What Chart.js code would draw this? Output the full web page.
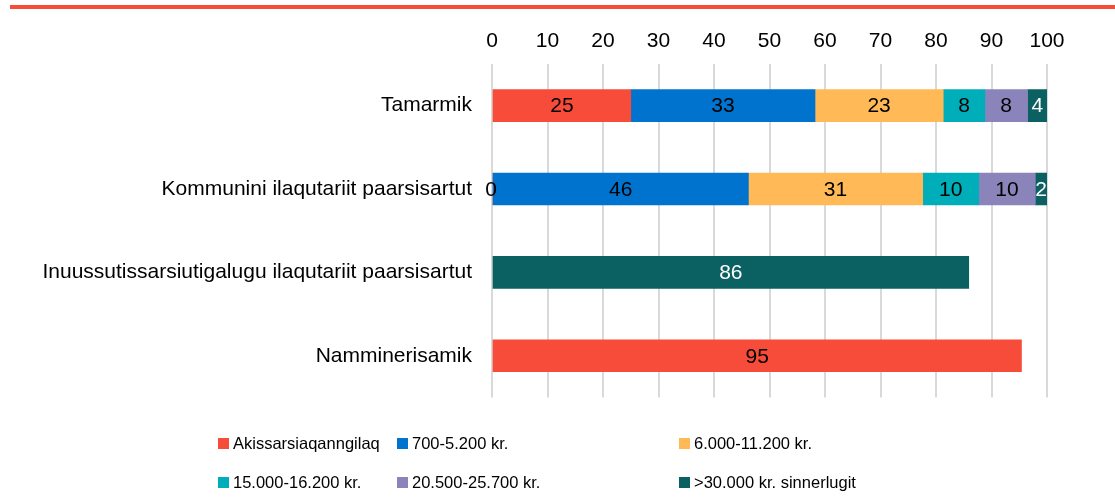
<!DOCTYPE html>
<html>
<head>
<meta charset="utf-8">
<script src="https://cdn.jsdelivr.net/npm/chart.js@4.4.1/dist/chart.umd.min.js"></script>
<style>
  body { margin: 0; background: #fff; font-family: "Liberation Sans", Arial, sans-serif; }
  #wrap { position: relative; width: 1115px; height: 498px; overflow: hidden; }
  #topline { position: absolute; left: 10px; top: 5px; width: 1105px; height: 4px; background: #F84C3B; }
  #barChart { position: absolute; left: 0; top: 0; }
  #legend { position: absolute; left: 0; top: 0; width: 1115px; height: 498px; pointer-events: none; }
  .lg { position: absolute; font-size: 16.5px; color: #000; white-space: nowrap; line-height: 20px; }
  .lg i { display: inline-block; width: 11px; height: 11px; margin-right: 4px; vertical-align: 0px; }
</style>
</head>
<body>
<div id="wrap">
  <div id="topline"></div>
  <canvas id="barChart" width="1115" height="430"></canvas>
  <div id="legend"></div>
</div>
<script>
// Categories (rows, top to bottom)
const categories = [
  "Tamarmik",
  "Kommunini ilaqutariit paarsisartut",
  "Inuussutissarsiutigalugu ilaqutariit paarsisartut",
  "Namminerisamik"
];

// Series values (percent)
const akissarsiaqanngilaq = [25, 0, null, 95.4];
const kr700_5200 = [33.2, 46.2, null, null];
const kr6000_11200 = [23.1, 31.4, null, null];
const kr15000_16200 = [7.5, 10.1, null, null];
const kr20500_25700 = [7.7, 10.2, null, null];
const kr30000plus = [3.5, 2.1, 85.9, null];

const seriesLabels = [
  "Akissarsiaqanngilaq",
  "700-5.200 kr.",
  "6.000-11.200 kr.",
  "15.000-16.200 kr.",
  "20.500-25.700 kr.",
  ">30.000 kr. sinnerlugit"
];
const seriesColors = ["#F84C3B", "#0073CF", "#FFB957", "#00AEBA", "#8A84BA", "#0B6062"];
const labelColors = ["#000", "#000", "#000", "#000", "#000", "#fff"];
const seriesData = [akissarsiaqanngilaq, kr700_5200, kr6000_11200, kr15000_16200, kr20500_25700, kr30000plus];

// X axis tick values
const xTicks = [0, 10, 20, 30, 40, 50, 60, 70, 80, 90, 100];

const FONT = "'Liberation Sans', Arial, sans-serif";

// Simple value labels in the middle of each segment
const segmentLabels = {
  id: "segmentLabels",
  afterDatasetsDraw(chart) {
    const ctx = chart.ctx;
    ctx.save();
    ctx.font = "21px " + FONT;
    ctx.textAlign = "center";
    ctx.textBaseline = "middle";
    chart.data.datasets.forEach((ds, i) => {
      const meta = chart.getDatasetMeta(i);
      meta.data.forEach((bar, j) => {
        const v = ds.data[j];
        if (v === null || v === undefined) return;
        const cx = (bar.x + bar.base) / 2;
        ctx.fillStyle = labelColors[i];
        ctx.fillText(Math.round(v).toString(), v === 0 ? cx - 1 : cx, bar.y + 1);
      });
    });
    ctx.restore();
  }
};

const datasets = seriesLabels.map((label, i) => ({
  label: label,
  data: seriesData[i],
  backgroundColor: seriesColors[i],
  borderWidth: 0,
  barThickness: 32
}));

new Chart(document.getElementById("barChart"), {
  type: "bar",
  data: { labels: categories, datasets: datasets },
  options: {
    indexAxis: "y",
    responsive: false,
    animation: false,
    layout: { padding: { top: 0, right: 68, bottom: 3, left: 0 } },
    plugins: {
      legend: { display: false },
      tooltip: { enabled: false }
    },
    scales: {
      x: {
        position: "top",
        stacked: true,
        min: 0,
        max: 100,
        afterBuildTicks: (scale) => { scale.ticks = xTicks.map((v) => ({ value: v })); },
        afterFit: (scale) => { scale.height = 64; },
        ticks: { color: "#000", font: { size: 21, family: FONT }, padding: 10 },
        grid: { color: "#d9d9d9", lineWidth: 2, drawTicks: false },
        border: { display: false }
      },
      y: {
        stacked: true,
        afterFit: (scale) => { scale.width = 492; },
        ticks: { color: "#000", font: { size: 21, family: FONT }, padding: 20 },
        grid: { display: false, drawTicks: false },
        border: { display: false }
      }
    }
  },
  plugins: [segmentLabels]
});

// HTML legend, two rows of three
const legendPos = [
  [218, 433], [397, 433], [679, 433],
  [218, 472], [397, 472], [679, 472]
];
const legendEl = document.getElementById("legend");
seriesLabels.forEach((label, i) => {
  const d = document.createElement("div");
  d.className = "lg";
  d.style.left = legendPos[i][0] + "px";
  d.style.top = legendPos[i][1] + "px";
  d.innerHTML = '<i style="background:' + seriesColors[i] + '"></i>';
  d.appendChild(document.createTextNode(label));
  legendEl.appendChild(d);
});
</script>
</body>
</html>
